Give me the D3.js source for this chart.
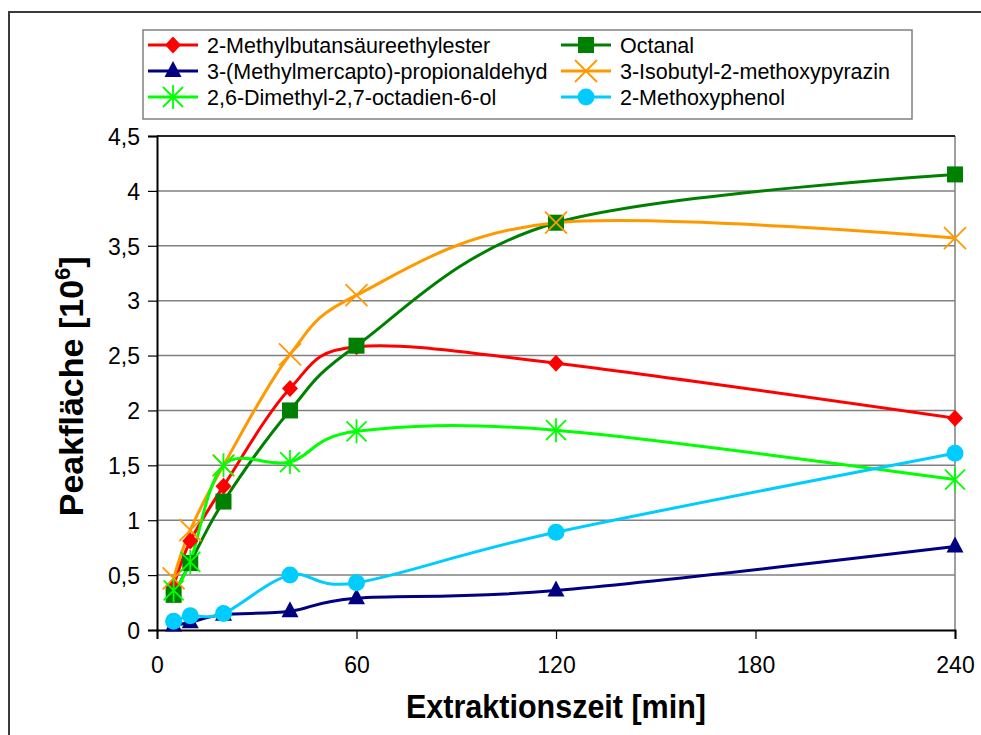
<!DOCTYPE html>
<html>
<head>
<meta charset="utf-8">
<script src="https://cdn.jsdelivr.net/npm/d3@7"></script>
<style>
  html, body { margin: 0; padding: 0; background: #fff; }
  svg { display: block; font-family: "Liberation Sans", Arial, sans-serif; }
</style>
</head>
<body>
<svg id="chart" width="981" height="735"></svg>
<script>
// Extraction times (min)
const times = [5, 10, 20, 40, 60, 120, 240];

// Peak areas [10^6] per compound
const methylbutanoate = [0.40, 0.81, 1.31, 2.20, 2.58, 2.43, 1.93];
const octanal         = [0.32, 0.61, 1.17, 2.00, 2.59, 3.71, 4.15];
const methional       = [0.04, 0.07, 0.14, 0.17, 0.29, 0.36, 0.76];
const isobutylPyrazin = [0.47, 0.91, 1.50, 2.51, 3.05, 3.71, 3.57];
const linalool        = [0.36, 0.62, 1.50, 1.53, 1.81, 1.82, 1.37];
const methoxyphenol   = [0.08, 0.13, 0.15, 0.50, 0.43, 0.89, 1.61];

const seriesNames = [
  "2-Methylbutansäureethylester",
  "Octanal",
  "3-(Methylmercapto)-propionaldehyd",
  "3-Isobutyl-2-methoxypyrazin",
  "2,6-Dimethyl-2,7-octadien-6-ol",
  "2-Methoxyphenol"
];
const seriesValues = [methylbutanoate, octanal, methional, isobutylPyrazin, linalool, methoxyphenol];
const seriesColors = ["#ff0000", "#008000", "#000080", "#ff9900", "#00ff00", "#00ccff"];
const seriesMarkers = ["diamond", "square", "triangle", "x", "asterisk", "circle"];

const xTicks = [0, 60, 120, 180, 240];
const yTicks = [0, 0.5, 1, 1.5, 2, 2.5, 3, 3.5, 4, 4.5];
const yTickLabels = ["0", "0,5", "1", "1,5", "2", "2,5", "3", "3,5", "4", "4,5"];

const svg = d3.select("#chart");

// outer chart frame
svg.append("rect")
  .attr("x", 9).attr("y", 12).attr("width", 1000).attr("height", 800)
  .attr("fill", "none").attr("stroke", "#3a3a3a").attr("stroke-width", 2);

const plot = { left: 157, top: 136, right: 955, bottom: 630 };

const x = d3.scaleLinear().domain([0, 240]).range([plot.left, plot.right]);
const y = d3.scaleLinear().domain([0, 4.5]).range([plot.bottom, plot.top]);

// horizontal gridlines
svg.append("g")
  .selectAll("line")
  .data(yTicks.slice(1))
  .join("line")
  .attr("x1", plot.left).attr("x2", plot.right)
  .attr("y1", d => y(d)).attr("y2", d => y(d))
  .attr("stroke", "#808080").attr("stroke-width", 1.5);

// plot frame: right side gray, top black
svg.append("line")
  .attr("x1", plot.right).attr("x2", plot.right)
  .attr("y1", plot.top).attr("y2", plot.bottom)
  .attr("stroke", "#808080").attr("stroke-width", 1.5);
svg.append("line")
  .attr("x1", plot.left).attr("x2", plot.right)
  .attr("y1", plot.top).attr("y2", plot.top)
  .attr("stroke", "#000").attr("stroke-width", 1.5);

// axes
const yAxis = d3.axisLeft(y).tickValues(yTicks)
  .tickFormat((d, i) => yTickLabels[i]).tickSize(9).tickPadding(8);
const gy = svg.append("g").attr("transform", `translate(${plot.left},0)`).call(yAxis);
const xAxis = d3.axisBottom(x).tickValues(xTicks).tickSize(9).tickPadding(18);
const gx = svg.append("g").attr("transform", `translate(0,${plot.bottom})`).call(xAxis);

[gx, gy].forEach(g => {
  g.select(".domain").attr("stroke", "#000").attr("stroke-width", 2);
  g.selectAll(".tick line").attr("stroke", "#000").attr("stroke-width", 1.2);
  g.selectAll(".tick text")
    .attr("fill", "#000")
    .style("font-size", "23px")
    .style("font-family", "'Liberation Sans', Arial, sans-serif");
});
gy.selectAll(".tick text").attr("dy", "0.36em");

// axis titles
svg.append("text")
  .attr("x", x(120)).attr("y", 718)
  .attr("text-anchor", "middle")
  .attr("textLength", 300).attr("lengthAdjust", "spacingAndGlyphs")
  .style("font-size", "34px").style("font-weight", "bold")
  .text("Extraktionszeit [min]");

const yt = svg.append("text")
  .attr("transform", `translate(83,${y(2.22)}) rotate(-90)`)
  .attr("text-anchor", "middle")
  .style("font-size", "34px").style("font-weight", "bold");
yt.append("tspan").text("Peakfläche [10");
yt.append("tspan").attr("dy", -13).style("font-size", "22px").text("6");
yt.append("tspan").attr("dy", 13).text("]");

// marker drawing
function drawMarker(g, type, cx, cy, color) {
  switch (type) {
    case "diamond":
      g.append("path").attr("d", `M${cx},${cy - 8.5}L${cx + 8},${cy}L${cx},${cy + 8.5}L${cx - 8},${cy}Z`)
        .attr("fill", color);
      break;
    case "square":
      g.append("rect").attr("x", cx - 8).attr("y", cy - 8).attr("width", 16).attr("height", 16)
        .attr("fill", color);
      break;
    case "triangle":
      g.append("path").attr("d", `M${cx},${cy - 10}L${cx + 8.5},${cy + 6}L${cx - 8.5},${cy + 6}Z`)
        .attr("fill", color);
      break;
    case "circle":
      g.append("circle").attr("cx", cx).attr("cy", cy).attr("r", 8.5).attr("fill", color);
      break;
    case "x":
      g.append("path").attr("d", `M${cx - 11},${cy - 11}L${cx + 11},${cy + 11}M${cx - 11},${cy + 11}L${cx + 11},${cy - 11}`)
        .attr("stroke", color).attr("stroke-width", 1.8).attr("fill", "none");
      break;
    case "asterisk":
      g.append("path").attr("d", `M${cx - 10},${cy - 10}L${cx + 10},${cy + 10}M${cx - 10},${cy + 10}L${cx + 10},${cy - 10}M${cx},${cy - 12}L${cx},${cy + 12}`)
        .attr("stroke", color).attr("stroke-width", 1.8).attr("fill", "none");
      break;
  }
}

const line = d3.line()
  .x((d, i) => x(times[i]))
  .y(d => y(d))
  .curve(d3.curveCardinal.tension(0));

// series lines then markers
const seriesG = svg.append("g");
seriesValues.forEach((vals, s) => {
  seriesG.append("path")
    .datum(vals)
    .attr("d", line)
    .attr("fill", "none")
    .attr("stroke", seriesColors[s])
    .attr("stroke-width", 3)
    .attr("stroke-linejoin", "round");
});
seriesValues.forEach((vals, s) => {
  const g = seriesG.append("g");
  vals.forEach((v, i) => drawMarker(g, seriesMarkers[s], x(times[i]), y(v), seriesColors[s]));
});

// legend
const legend = svg.append("g");
legend.append("rect")
  .attr("x", 143).attr("y", 30).attr("width", 769).attr("height", 89)
  .attr("fill", "#fff").attr("stroke", "#808080").attr("stroke-width", 1.5);

const legendCols = [148, 561];
const legendRows = [45, 71, 97];
seriesNames.forEach((name, s) => {
  const lx = legendCols[s % 2];
  const ly = legendRows[Math.floor(s / 2)];
  const g = legend.append("g");
  g.append("line")
    .attr("x1", lx).attr("x2", lx + 50).attr("y1", ly).attr("y2", ly)
    .attr("stroke", seriesColors[s]).attr("stroke-width", 3);
  drawMarker(g, seriesMarkers[s], lx + 25, ly, seriesColors[s]);
  g.append("text")
    .attr("x", lx + 59).attr("y", ly).attr("dy", "0.36em")
    .style("font-size", "21.5px")
    .text(name);
});
</script>
</body>
</html>
